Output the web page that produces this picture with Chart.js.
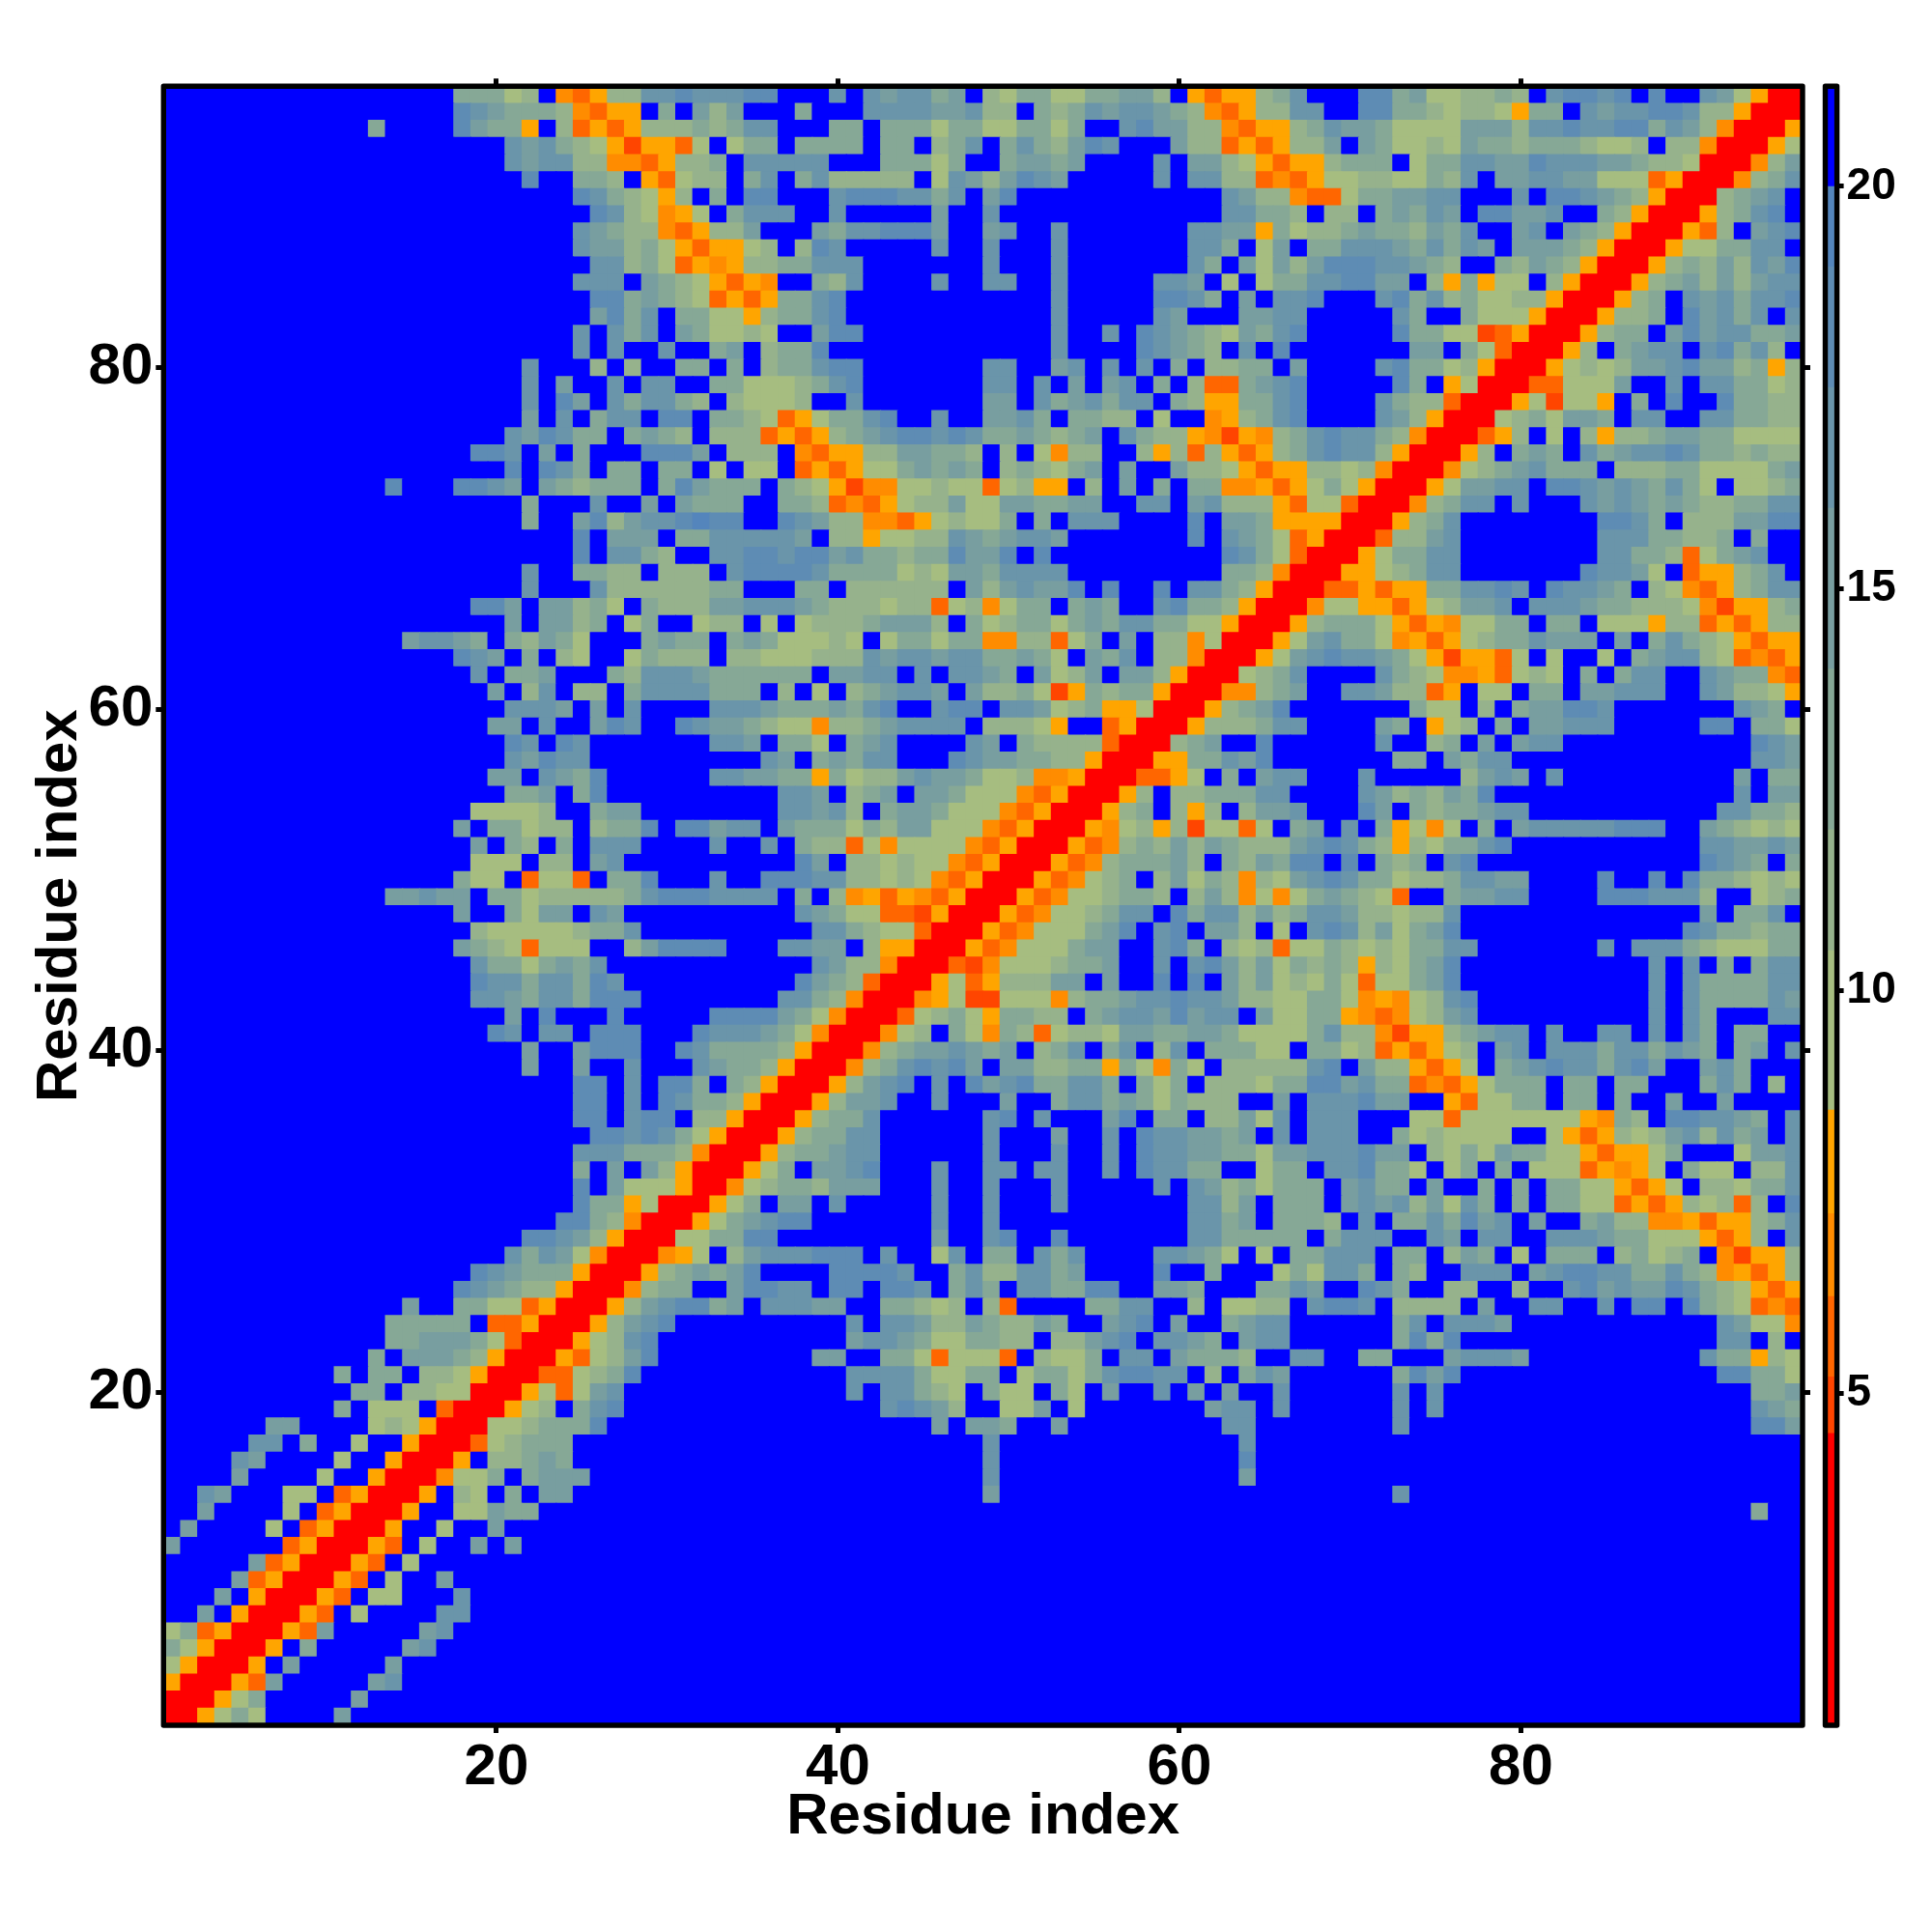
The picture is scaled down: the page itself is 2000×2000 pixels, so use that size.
<!DOCTYPE html>
<html>
<head>
<meta charset="utf-8">
<title>Residue index map</title>
<script src="https://cdn.jsdelivr.net/npm/chart.js@4"></script>
<style>
  html, body { margin: 0; padding: 0; background: #fff; }
  canvas { position: absolute; top: 0; }
  #map { left: 0; }
  #key { left: 1860px; }
</style>
</head>
<body>
<canvas id="map" width="2000" height="2000"></canvas>
<canvas id="key" width="140" height="2000"></canvas>
<script>
// cell codes, one string per row, row 96 first
// a number before a dot is a run of that many dots
const colsLeft = [
"17.cccab.utvbbeefe","17.fedcccbutvv.c.d","12.c4.fdccv.btvtvbbbc","20.edecbavsvvta","20.edeebbuutvbb","21.f2.ccb.vtab",
"24.fecbavb.","25.febauva","24.edcbbutv","24.eddbcavt","25.eebcatv","24.eee.dcba","25.ffcdcba","25.dfce.cc","24.e.ece.dc","24.e.e2.e2.",
"21.e3.b.b2.cc","21.e.d2.e.ee2.","21.e.fd.eceecb","21.d.e.cee.ff.","20.edfecc.cdcb.","18.ffe.d.c3.fffd","20.f.fec.cc.cc.","13.f3.ffed.dcbccc.cfd",
"21.c3.e2.d.dc","21.c2.dfbdeefg","24.f.ddd.cc","24.f.eecb2.","21.e2.ccbb.bbb","21.e3.ebbbbbb","18.ffd.ddbca.cbbb","20.d.ddbc.ac2.a",
"14.deedc.cbdca3.cdcc","17.fed.c.ba2.acbbb","18.e.ccd3.cbeeed","19.d.be.bb.ceeee","20.eeed.d.e4.","19.dd.e2.dfe2.fe","20.fe.fe7.","20.edfee7.",
"19.dd.edcf6.","20.ccd.cf6.","18.aaaab2.cdd4.","17.d.ccabb.bccf.ff","18.d.cb.c.eee4.","18.aaa.bb.de5.","17.caa.taat.ccf3.","13.ddedd.ccabbbbbcefff",
"17.d2.cadd.ed5.","18.baaaaabcce4.","17.dcbataaa2.bdfff","18.eccacdce6.","18.feeceecfe5.","18.eedceecfff4.","20.d.f3.f5.","19.fe.ee.fff3.f",
"21.d2.dfff2.fe","21.d2.d2.e3.e","24.ff.e.ffc","24.ff.e.fec","24.ff.eff.b","25.ffefeca","24.eeecccbu","24.c.d.dbvr",
"24.f.daaavr","24.fccvarrr","23.ffcburrrv","21.ffedbvrrraa","20.ecedaurrruva","18.fedcccvrrrvbcd","17.fedcbbvrrrubcc.","14.d2.ccaatvrrrvbdeff",
"13.ccccc.ttvrrrvbdef2.","13.ccdddcatrrrvabef3.","12.c.dddcbvrrrvtabdf3.","10.c.cc.bbavrrrttabcf4.","11.cc.bbaarrrvatade5.","10.c.aaa.trrrvab.cef5.","6.dd4.abavrrraabcccf6.","5.ee.c2.a2.vrrrtabccc8.",
"4.ed4.a2.vrrrv.bbcdc8.","4.d4.a2.vrrruaac.cddd7.","2.ed3.aa.tvrrrv.ba.c.dd8.","2.d4.a.tvrrrv2.aadcc10.",".d4.a.tvrrrv2.a2.d12.","d6.tvrrrvt.a2.d.d11.","5.dtvrrrvt.a17.","4.dtvrrrvt.a2.d15.",
"3.d.vrrrvt.aa3.e14.","2.d.vrrrvt.a4.ee14.","actvrrrvtd5.de15.","cavrrrv.c5.de16.","avrrrv.d5.d18.","vrrrvtd5.de18.","rrrvac5.d20.","rrvaca4.d21."
];
const colsMiddle = [
"eeff...e.edeecd.baccaaccddb.vtvv","bd...c...eeeeddebb.cbcedeedcbutv","bcee...cc.cccaccaaccac..efddbbut",".acc.cccc.cc.bce.cecbdfe...dbbtv",
"c.eeeee...cccac..cddcd....e.ddba","b.ce.cebbbbb.aedbdfed.....e.eebb","c.ff...efffeece.df............ed",".ceee..e.....d..e.............ee",
"bbd...dceefffd..de..e.......eedd","vvab.bfe.....e..e...e.......eec.","uvbbcceee.......e...e.......ec.d","vtvu..cbe....e..ee..e.....eed.a.",
"tvtvccef............e.....ffec.d","aavbccef............e.....ed...d","aaba..dff...........e..e.fedcbad","cd.bccf.............e....fedcb.e",
".c.bcceff.......ee..de.e.e.c.bbc","ccaaabcef.......ee.e.d.de.c.bttc",".baaab..e.......dd.ecdecee.cbvvc","ccbatvaccef..e..ddec.ccbb.a..uvb",
"bbbtvtvbcdeffefeccdcbcd.ecbbvusv",".bbb.utvvbbddccb.b.aubb..bvbtbvt","a.aa.tvtvaacdcdc.bcbacd.d..dbbav","ccc.cbavsuuaabaatabvv.b.d.c.ccuu",
"cc..ccbtutvabbdaaddccdd..ee.debb","ff..fedbbuutvabaac.c.eee....f.dd","eeeeed.bbvaabbedcdeed.......f.ed","eeffeffdeccbccfddf.f..........fe",
".effffeccccabaddceeee.........cc","cc...cc.bbbbbb.dbdeddf.f..f.eecb","ddeeedcbbbabbtabuacc.cdc..efccbv","bb.a.abbbcdddb.cabccacdceeccaavr",
".cdcaaaba.accaccuubbtac.d.bbuarr",".bbaaabbbedeedeeccdca.dce.bburrr","cccccc.ddee.e.eedc.dabd.ddbvrrra","ccc.b.a.bcdeed.dbbcasvcbccvrrruu",
"eeedcccdcef..eff.eedabcvvarrrvbc","ddcbaaubbcdeeee.bbbav..tvrrrvbbb","eed.cca.cde....ed.cbbbbtrrrbcd..","...ed.cdcee...feddccbbvrrrvvcced",
"eeddccvcabbdeddcaabuuvrrrttva.c.","....eed.bcd.ddcaaautvrrrvb.bbccc","....eedeb.cddcaaautvrrrvbc.bvb.b","dee.dcccacbddaaautvrrrvuabvbsaat",
"e..e.cbbtauaaaautvrrrvtubcbdbdcb",".....fd.bbabaautvrrrvtubcccdb.cb","e..fffeebbabautvrrrvtuabc.bdacbu","eeee.c.buvtvutvrrrvtuaabccb.bdbu",
".....edcaattsvrrrvtuaabcee.fceeb","......eecbaatrrrvtuaaacdf.ef.ddb","f...eedd.bvvrrrvtuaaacdd..efc.ba","......edbburrrtsuaaabccd..e.efdb",
".....fdcbtrrrvatvbbbdd.d..f.f.db","....eecburrruvassaaaubccdeefeedb","ffffdcaurrrtabcavccbb.cdeedfdee.","eeedcaurrruab.caucbtabbaddccddca",
"ccccbvrrrubcddedcd.bce.ce.be.ccc","dccbvrrrubcefefd.ddbbccvcauca.bb",".cbvrrrvbdef.e.fdefcceec.cac.bbb","cbvrrrvbdde..e...d..ceecdcacbbb.",
"bvrrrvbcce......ef.e...df.cc.bbd","vrrrvbccee......e...d..e.feeddcd","rrrvbccdee......e...e..e.feeddcc","rrvac.ddef...e..ee.ee..e.feecc..",
"ruabccbddd...e..e...e.....e.edbc","vac.dd.e.....e..e...e.......eebd","acdeff.......e..e...........eecd","ccff.........d..ef..f.......eecc",
".bdeeefff.e..ae.cc.ece....eedca.","cdf....ffffe..cebbeecd....f..c..",".dffee.ff.ffe.cec.eeccff..ddc...","cd.eeedd..ccbab.bt....ccee..b.aa",
"........e.eedbbdcbbdc..def.d..cd","........deedcaaccbb.bbdef.eedc.d","......dd..ccataaat.baac.ee.dcccb","........eeeecaacc.accaceffee.b.c",
"........e.eecba.caa.ca.d..e.d.d.","..........efedb..aad.a.......dee","13.d.ddc2.d9.ee","16.e14.e","16.e14.f","16.e14.d","16.d15.",
"32.","32.","32.","32.","32.","32.","32.","32.","32.","32.","32.","32.","32."
];
const colsRight = [
"bce...ffcdaabbcb.effef.f..edavrr","bbee..ffccbabbavcc.edeeffebbvrrr","vvbceddcaaaadddbeefeeffcedburrrv","tvbbd.dcaabadccbcccbaab.bburrrva",
"vtvvbccc.acceeddfeeeddcbbarrrubd","tutvaabbaacbe.ddeeddaaatvrrrubce","bbuttaccddee...e.ffedcbvrrrbcde.","ccb.bb.cdced.ffdde..cbvrrrvbcef.",
"vcabbcdccbdce..de.dcbvrrrvtb.def","ad.cceeedceced.dddcbvrrrvaaccee.","adbdfffeedcb..cbdcbvrrrvbcbdbedf","acceeffdd.bvcvaa.bvrrrvbcdbdbdee",
".eef...efcebcaabbvrrrvbc.edeceef","dee.....ec..caaavrrrvbbc.fdece.e","cef.....fccaastvrrrvbcc.dfdeeccd",".f.......dd.catrrrvb.cdee.efceb.",
"c.d....efccabvrrrvababddefddbcvb","def.....fc.varrrttaaad..e.eeccab","cef....ecbbtrrrvasaav.c.f..fccbb","cef....edbvrrrabcaddc.ee..eeccbb",
"ubcefeecburrrtvb.a.bvbbcddccaaaa","vbcefeebvrrrvb.cdc.ecdeefeccbcbb","tvvbbaburrruabcdeccc.bbbccaaaacd","vtvacavrrrvaddee.ffededceca.aabc",
"bvtaatrrrubcee.e...ededcdcbbccee","cvvvvrrrvbce........ffec.bbbddff","catvrrrtbbde........eeeccbbc.c..","catrrrvaccee........eeccbtacde..",
"burrrvvabcee.......feeda.tvvbce.","vrrrttvtvvcceefe.feedc.bautvbcee","rrruaavvtvabdde.eeedccbbbausvvbc","rrvbcccavtvuaacc.cc.aaavbbtvtvbb",
"rvadeccauvtvabcceddd.d.cecbavtvv","vadefeedcavsvvta.a..a.cdeebatutv","bce....ecbauuvtaba.c.cee..edccut","bcd..eedbbtv.aa.cc.ddeee..edbbav",
"df.......caa.b.cddffe.......edc.","cee....dc.vab.c.ddeee.....ff.cca","f......e..bc.d.dee...........fed","f.......cc.dcee..............eed",
"dee...e.....bded.e..........d.cc","ee....edbcbdcf..............e.dd","dde...fd.cbccdee...........eeccb","a.cd.e.cvaua.c.deeeeefff..dcbaba",
"bbdefecbvbaccef...........eedded","dcff.f.cbc.ef.............fedc.c","badefeccabbceedd....f..f.fccbaba","auacdcbat..cddee....fffeeeb..abc",
"dbceedbbabbe..............d.cce.",".a.efebdacdf.............feccbcc","btaacbabaccee.......e.eeecbaaacc","dacbcbvbacdf...........e.e.c.cee",
"dabacataacdf...........e.eccccee","baaccauvuabef..........e.ecccced","daaccvutuabde..........e.ec...ee","aaacebbusvvbcdee.e..ee.e.ec.cc..",
"aa.ccabtvtvab.de.eeeceecedc.cd.e","bbbef.dbbvtva.cdefeecefd..dec...","accffdecctutvaccc.cc.cc...cec.b.",".d.eeefdd..vtaacc.cc.c..d..d....",
"ae.eee...aataaaaaaavucb.ffeedc.e",".e.eee..cabaaaa..avtvbabdebecd.e","addeeefdd.bacadccaavtvvac...adde","acc.eefcca.ac.c.aaatvuva.caa.bbe",
"accc.decc.d..c.c.ccaavtva.bbacce",".ccc.dedebdaec.c.ccaatvtvbabtb.f",".cccb.e.ccecfde.d..cdbbuuvtvvbce","ccc.ceee..ed.ee..eeedccaaavtvb.e",
"a.cceee.cc.bdc.a.ccc.bcabc.usvvb",".acaeec.cb..eee.deffeeccecbuvtvb","cced..fec..bb..b..efdeddfecbavtv","bb.effe.bbbb.d..ee..e.ff.fcbatut",
"ee6.ce.eeed12.edaau","ee6.cfcf15.ee.b.","..ee..cc...deeed10.eccvba","ed6.cfdf15.ffcca",".e6.e.e18.ccd",".e6.e.e18.edc","8.e20.ffd",
"32.","32.","32.","8.e23.","29.c2.",
"32.","32.","32.","32.","32.","32.","32.","32.","32.","32.","32.","32."
];

// what each code stands for
const levelCodes  = ["r","s","t","u","v","a","b","c","d","e","f","g","."];
const levelValues = [2.5,4.8,5.6,6.7,8,9.5,11,13,15,16.8,18.2,19.5,21];
const levelColors = ["#ff0000","#ff4500","#ff6600","#ff8c00","#ffa500","#a6bd80","#96b28c","#86a896","#789ea0","#6a95aa","#5e8cb4","#5485bc","#0000ff"];
// where each colour stops on the colour key
const keyEdges = [0.87,4.5,5.2,6.2,7.23,8.52,10.5,12,14,16,17.5,19,20,21.245];

const axisTicks = [20,40,60,80];
const keyTicks = [5,10,15,20];
const axisTitle = "Residue index";

Chart.defaults.font.family = "'Liberation Sans', Arial, sans-serif";
Chart.defaults.font.weight = "bold";
Chart.defaults.color = "#000";

function expand(s) {
  return s.replace(/(\d+)\./g, function (m, n) { return ".".repeat(+n); });
}

var cells = [];
colsLeft.forEach(function (left, i) {
  var row = expand(left) + expand(colsMiddle[i]) + expand(colsRight[i]);
  if (row.length != 96) throw new Error("row " + (96 - i) + " has " + row.length + " cells");
  for (var c = 0; c < 96; c++) {
    cells.push({ x: c + 1, y: 96 - i, v: levelValues[levelCodes.indexOf(row[c])] });
  }
});

function colorOf(v) {
  return levelColors[levelValues.indexOf(v)];
}

// thick black box round the plot
const frame = {
  id: "frame",
  afterDraw: function (chart) {
    var a = chart.chartArea, ctx = chart.ctx;
    ctx.save();
    ctx.strokeStyle = "#000";
    ctx.lineWidth = chart.options.plugins.frame.width;
    ctx.lineJoin = "round";
    ctx.strokeRect(a.left, a.top, a.right - a.left, a.bottom - a.top);
    ctx.restore();
  }
};

function setTicks(values) {
  return function (scale) {
    scale.ticks = values.map(function (v) { return { value: v }; });
  };
}

function tickGrid(len) {
  return { drawOnChartArea: false, drawTicks: true, tickLength: len, tickWidth: 5, tickColor: "#000" };
}

function mapAxis(position, size, extra) {
  return Object.assign({
    type: "linear",
    position: position,
    min: 0.5,
    max: 96.5,
    border: { display: false },
    grid: tickGrid(8),
    afterBuildTicks: setTicks(axisTicks),
    afterFit: function (scale) {
      if (position == "top" || position == "bottom") scale.height = size;
      else scale.width = size;
    }
  }, extra);
}

new Chart(document.getElementById("map"), {
  type: "scatter",
  data: {
    datasets: [{
      data: cells,
      clip: 0,
      pointStyle: "rect",
      pointBorderWidth: 0,
      // a bit oversize so no seams show between neighbours
      pointRadius: function (ctx) {
        var a = ctx.chart.chartArea;
        return (a ? (a.right - a.left) / 96 : 17.67) * Math.SQRT1_2 + 0.75;
      },
      pointBackgroundColor: function (ctx) {
        return ctx.raw ? colorOf(ctx.raw.v) : "#0000ff";
      }
    }]
  },
  options: {
    responsive: false,
    devicePixelRatio: 1,
    animation: false,
    events: [],
    plugins: { legend: { display: false }, tooltip: { enabled: false }, frame: { width: 5.4 } },
    scales: {
      x: mapAxis("bottom", 214, {
        ticks: { font: { size: 60 }, padding: 0, maxRotation: 0, autoSkip: false },
        title: { display: true, text: axisTitle, font: { size: 60 }, padding: { top: 0, bottom: 83 } }
      }),
      xTop: mapAxis("top", 89.3, { ticks: { display: false } }),
      y: mapAxis("left", 169.3, {
        ticks: { font: { size: 60 }, padding: 3, autoSkip: false },
        title: { display: true, text: axisTitle, font: { size: 60 }, padding: { top: 26, bottom: 0 } }
      }),
      yRight: mapAxis("right", 134, { ticks: { display: false } })
    }
  },
  plugins: [frame]
});

// colour key, one floating bar per colour
var keyBars = keyEdges.slice(1).map(function (top, i) {
  return {
    data: [[keyEdges[i], top]],
    backgroundColor: levelColors[i],
    barPercentage: 1,
    categoryPercentage: 1,
    grouped: false,
    borderWidth: 0
  };
});

new Chart(document.getElementById("key"), {
  type: "bar",
  data: { labels: ["key"], datasets: keyBars },
  options: {
    responsive: false,
    devicePixelRatio: 1,
    animation: false,
    events: [],
    layout: { padding: { left: 29.5, top: 89.3, bottom: 214, right: 0 } },
    plugins: { legend: { display: false }, tooltip: { enabled: false }, frame: { width: 5.4 } },
    scales: {
      x: { display: false },
      y: {
        position: "right",
        min: keyEdges[0],
        max: keyEdges[keyEdges.length - 1],
        border: { display: false },
        grid: tickGrid(7),
        ticks: { font: { size: 46 }, padding: 3, autoSkip: false },
        afterBuildTicks: setTicks(keyTicks),
        afterFit: function (scale) { scale.width = 98.4; }
      }
    }
  },
  plugins: [frame]
});
</script>
</body>
</html>
